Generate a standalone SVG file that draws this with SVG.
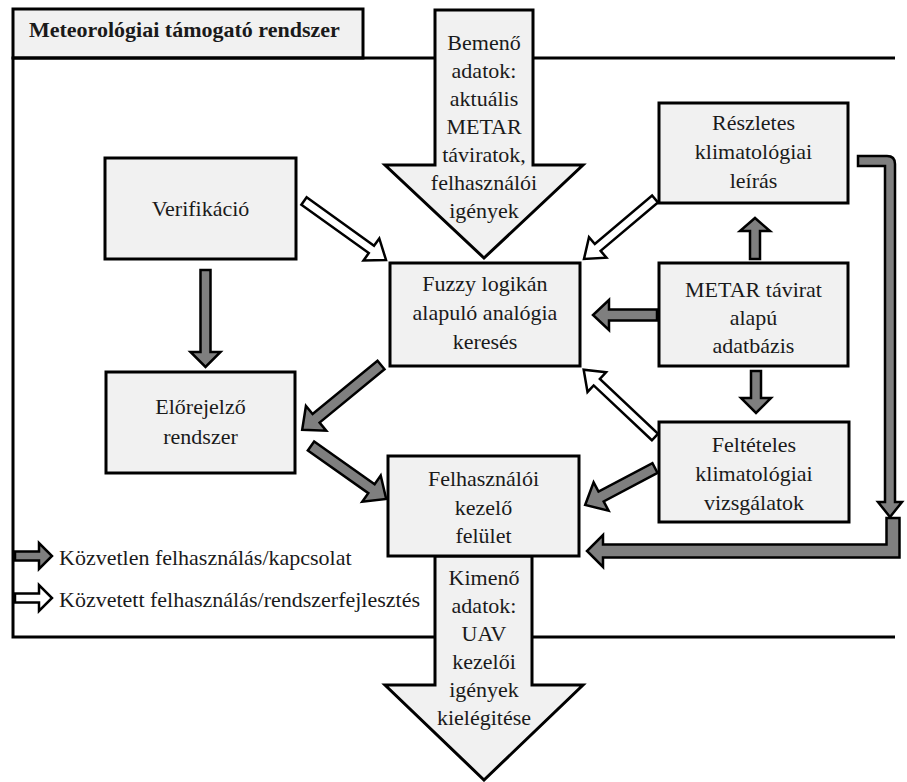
<svg xmlns="http://www.w3.org/2000/svg" width="907" height="782" viewBox="0 0 907 782">
<style>
.bg{fill:#ffffff}
.frame{fill:none;stroke:#000;stroke-width:3}
.box{fill:#f1f1f1;stroke:#000;stroke-width:3}
.big{fill:#f1f1f1;stroke:#000;stroke-width:3;stroke-linejoin:miter}
.dk{fill:#7f7f7f;stroke:#000;stroke-width:2.5;stroke-linejoin:miter}
.wt{fill:#ffffff;stroke:#000;stroke-width:2.5;stroke-linejoin:miter}
.t{font-family:'Liberation Serif','DejaVu Serif',serif;font-size:22px;fill:#1a1a1a}
.c{text-anchor:middle}
.title{font-weight:bold}
</style>
<rect class="bg" x="0" y="0" width="907" height="782"/>
<g id="frame">
<rect class="box" x="13" y="9" width="350" height="49"/>
<text class="t title" x="29" y="37">Meteorológiai támogató rendszer</text>
<path class="frame" d="M436,58 H13 V637 H436 M532,637 H895 M532,58 H895"/>
</g>
<g id="input">
<polygon class="big" points="435,10 533,10 533,165 583,165 484,258 385,165 435,165"/>
<text class="t c" x="484" y="50">Bemenő</text>
<text class="t c" x="484" y="78">adatok:</text>
<text class="t c" x="484" y="106">aktuális</text>
<text class="t c" x="484" y="134">METAR</text>
<text class="t c" x="484" y="162">táviratok,</text>
<text class="t c" x="484" y="190">felhasználói</text>
<text class="t c" x="484" y="218">igények</text>
</g>
<g id="output">
<polygon class="big" points="435,556 532,556 532,685 583,685 484,780 385,685 435,685"/>
<text class="t c" x="484" y="585">Kimenő</text>
<text class="t c" x="484" y="613">adatok:</text>
<text class="t c" x="484" y="641">UAV</text>
<text class="t c" x="484" y="669">kezelői</text>
<text class="t c" x="484" y="697">igények</text>
<text class="t c" x="484" y="725">kielégitése</text>
</g>
<g id="verifikacio">
<rect class="box" x="105" y="158" width="191" height="101"/>
<text class="t c" x="200.5" y="216">Verifikáció</text>
</g>
<g id="elorejelzo">
<rect class="box" x="106" y="372" width="189" height="101"/>
<text class="t c" x="200.5" y="414">Előrejelző</text>
<text class="t c" x="200.5" y="444">rendszer</text>
</g>
<g id="fuzzy">
<rect class="box" x="390" y="263" width="190" height="103"/>
<text class="t c" x="485" y="291">Fuzzy logikán</text>
<text class="t c" x="485" y="320">alapuló analógia</text>
<text class="t c" x="485" y="349">keresés</text>
</g>
<g id="felhasznaloi">
<rect class="box" x="388" y="456" width="191" height="100"/>
<text class="t c" x="483.5" y="486">Felhasználói</text>
<text class="t c" x="483.5" y="514.5">kezelő</text>
<text class="t c" x="483.5" y="543">felület</text>
</g>
<g id="reszletes">
<rect class="box" x="659" y="103" width="189" height="100"/>
<text class="t c" x="753.5" y="130">Részletes</text>
<text class="t c" x="753.5" y="159">klimatológiai</text>
<text class="t c" x="753.5" y="188">leírás</text>
</g>
<g id="metar">
<rect class="box" x="659" y="263" width="189" height="103"/>
<text class="t c" x="753.5" y="297">METAR távirat</text>
<text class="t c" x="753.5" y="325">alapú</text>
<text class="t c" x="753.5" y="353">adatbázis</text>
</g>
<g id="felteteles">
<rect class="box" x="659" y="422" width="190" height="100"/>
<text class="t c" x="754" y="452">Feltételes</text>
<text class="t c" x="754" y="481">klimatológiai</text>
<text class="t c" x="754" y="510">vizsgálatok</text>
</g>
<g id="connectors">
<polygon class="dk" transform="translate(205.5,270) rotate(90)" points="0,-5 82,-5 82,-15 97,0 82,15 82,5 0,5"/>
<polygon class="wt" transform="translate(304,201) rotate(35.7)" points="0,-4.5 83,-4.5 83,-13.5 101,0 83,13.5 83,4.5 0,4.5"/>
<polygon class="wt" transform="translate(655,199) rotate(139.8)" points="0,-4.5 75,-4.5 75,-13.5 93,0 75,13.5 75,4.5 0,4.5"/>
<polygon class="dk" transform="translate(755,259) rotate(-90)" points="0,-5 28,-5 28,-15 41,0 28,15 28,5 0,5"/>
<polygon class="dk" transform="translate(657,315) rotate(180)" points="0,-5.5 48,-5.5 48,-15 64,0 48,15 48,5.5 0,5.5"/>
<polygon class="dk" transform="translate(756,371) rotate(90)" points="0,-5 27,-5 27,-15 42,0 27,15 27,5 0,5"/>
<polygon class="wt" transform="translate(655,437) rotate(-136.7)" points="0,-4.5 80,-4.5 80,-13.5 98,0 80,13.5 80,4.5 0,4.5"/>
<polygon class="dk" transform="translate(381,365) rotate(140.6)" points="0,-5.5 84,-5.5 84,-16 102,0 84,16 84,5.5 0,5.5"/>
<polygon class="dk" transform="translate(311,446) rotate(35.2)" points="0,-5.5 74,-5.5 74,-16 92,0 74,16 74,5.5 0,5.5"/>
<polygon class="dk" transform="translate(655,468) rotate(152.1)" points="0,-5.5 61,-5.5 61,-16 79,0 61,16 61,5.5 0,5.5"/>
<path class="dk" d="M858,156 H887 Q895,156 895,164 V502 H902 L890,517 L878,502 H885 V166 H858 Z"/>
<path class="dk" d="M886.5,518 H899.5 V557.5 H603 V567 L587,551 L603,535 V544.5 H886.5 Z"/>
</g>
<g id="legend">
<polygon class="dk" points="15,551.5 39,551.5 39,543 52,556 39,569 39,560.5 15,560.5"/>
<text class="t" x="59" y="565">Közvetlen felhasználás/kapcsolat</text>
<polygon class="wt" points="15,593.5 39,593.5 39,585 52,598 39,611 39,602.5 15,602.5"/>
<text class="t" x="59" y="607">Közvetett felhasználás/rendszerfejlesztés</text>
</g>
</svg>
